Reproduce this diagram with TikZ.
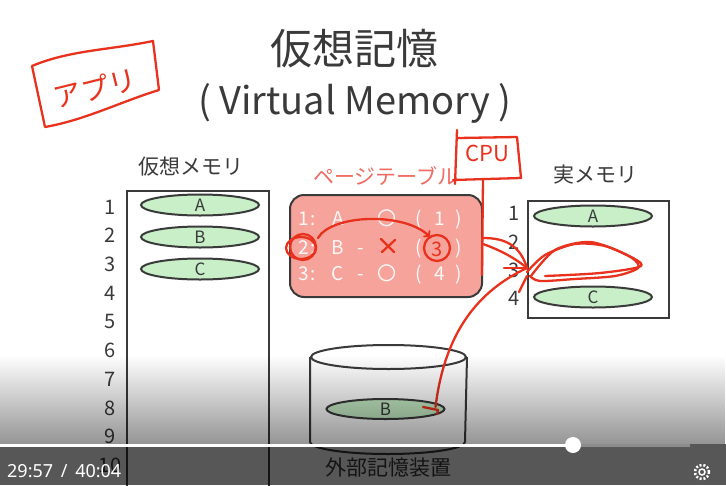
\documentclass[tikz,border=0pt]{standalone}
\usepackage{fontspec}
\setmainfont{Noto Sans CJK JP}
\newfontfamily\uifont{Noto Sans}
\usetikzlibrary{shapes.geometric,fadings}
\definecolor{ink}{HTML}{3A3A3A}
\definecolor{marker}{HTML}{E8321E}
\definecolor{tablefill}{HTML}{F6A39B}
\definecolor{tabletitle}{HTML}{EF6B61}
\definecolor{pagefill}{HTML}{C8EFC8}
\begin{document}
\begin{tikzpicture}[x=1pt,y=-1pt]
    \tikzset{
        heading/.style={text=ink, inner sep=0, font=\fontsize{21}{21}\selectfont},
        num/.style={text=ink, inner sep=0, font=\fontsize{20}{20}\selectfont},
        page/.style={draw=ink, line width=2pt, fill=pagefill, ellipse, minimum width=118pt, minimum height=21pt, inner sep=0, text=ink, font=\fontsize{17}{17}\selectfont},
        frame/.style={draw=ink, line width=2pt},
        cell/.style={text=white!92!tablefill, inner sep=0, anchor=base, font=\fontsize{19}{19}\selectfont},
        scrawl/.style={draw=marker, line width=2.3pt, line cap=round, line join=round},
        hand/.style={text=marker, inner sep=0}
    }
    \useasboundingbox (0,0) rectangle (726,485);
    \fill[white] (0,0) rectangle (726,485);

    \draw node[text=ink, inner sep=0, font=\fontsize{42}{42}\selectfont] (title) at (354,49) {仮想記憶};
    \draw node[text=ink, inner sep=0, font=\fontsize{38}{38}\selectfont] (subtitle) at (355,103) {( Virtual Memory )};

    \draw node[heading] (vlabel) at (191,167) {仮想メモリ};
    \draw node[heading, text=tabletitle] (tlabel) at (386,176) {ページテーブル};
    \draw node[heading] (rlabel) at (595,175) {実メモリ};
    \draw node[heading] (dlabel) at (388,468) {外部記憶装置};

    \draw node[frame, anchor=north west, minimum width=142pt, minimum height=310pt] (vmem) at (126,190) {};
    \foreach \i in {1,...,10}{
        \draw node[num] (v\i) at (110,{207+28.7*(\i-1)}) {\i};
    }
    \draw node[page] (va) at (200,205) {A};
    \draw node[page] (vb) at (200,237) {B};
    \draw node[page] (vc) at (200,269) {C};

    \draw node[frame, fill=tablefill, rounded corners=14pt, minimum width=192pt, minimum height=102pt] (ptable) at (386,246) {};
    \foreach \x/\a/\b/\c in {%
        304/1/2/3, 313/:/:/:, 338/A/B/C, 361/-/-/-, 387/〇//〇, 419/(/(/(, 440/1//4, 459/)/)/)%
    }{
        \draw node[cell] at (\x,225) {\a};
        \draw node[cell] at (\x,254) {\b};
        \draw node[cell] at (\x,280) {\c};
    }

    \draw node[frame, anchor=north west, minimum width=141pt, minimum height=117pt] (rmem) at (527,200) {};
    \foreach \i/\y in {1/213,2/242,3/270,4/298}{
        \draw node[num] (r\i) at (514,\y) {\i};
    }
    \draw node[page] (ra) at (593,216) {A};
    \draw node[page] (rc) at (593,297) {C};

    \draw node[frame, ellipse, minimum width=155pt, minimum height=24pt, inner sep=0] (disk) at (388.5,357) {};
    \draw[frame] (disk.west) -- ++(0,85) arc[start angle=180, end angle=360, x radius=77.5pt, y radius=12pt] -- (disk.east);
    \draw node[page, minimum height=20pt] (db) at (385.5,409) {B};

    \draw[scrawl] (32,66) .. controls (70,50) and (110,50) .. (153,41) -- (159,90) .. controls (120,102) and (85,120) .. (45,127) -- cycle;
    \draw node[hand, rotate=14, font=\fontsize{28}{28}\selectfont] (app) at (95,88) {アプリ};

    \draw[scrawl] (457,130) -- (455,184);
    \draw[scrawl] (458,138) -- (517,137) -- (521,178) -- (453,180);
    \draw node[hand, font=\fontsize{22}{22}\selectfont] (cpu) at (487,153) {CPU};
    \coordinate (cpufoot) at (483,179);
    \coordinate (r3in) at (527,268);
    \draw[scrawl] (cpufoot) -- (482,275);
    \draw[scrawl] (483,238) .. controls (505,238) and (520,245) .. (r3in);
    \draw[scrawl] (483,244) .. controls (500,250) and (515,258) .. (r3in);
    \draw[scrawl] (504,268) -- (r3in);
    \draw[scrawl] (db.east) ++(-10,-2) .. controls (445,330) and (480,290) .. (r3in);
    \draw[scrawl] (423,407) -- (438,410) -- (437,414);
    \draw[scrawl] (527,276) -- (519,292);
    \draw[scrawl] plot[smooth] coordinates {(527,272) (545,255) (575,244) (605,246) (632,258) (638,268) (615,276) (575,279) (540,281) (530,276)};
    \draw[scrawl] plot[smooth] coordinates {(531,276) (555,250) (590,242) (625,254) (641,266) (600,273) (545,276)};

    \draw[scrawl] (303,247) circle[radius=13pt];
    \draw[scrawl] (301,248) ellipse[x radius=15pt, y radius=11pt];
    \draw[scrawl] (381,239) -- (394,252);
    \draw[scrawl] (395,240) -- (382,252);
    \draw node[hand, font=\fontsize{20}{20}\selectfont] (three) at (437,249) {3};
    \draw[scrawl] (437,248) circle[radius=13pt];
    \draw[scrawl, ->] (318,238) .. controls (332,214) and (405,212) .. (430,237);

    \fill[black, opacity=0.42, path fading=north] (0,355) rectangle (726,444);
    \fill[black, opacity=0.66] (0,444) rectangle (726,485);
    \draw[white, line width=3pt] (0,445) -- (573,445);
    \draw[white!55!black, line width=3pt] (573,445) -- (690,445);
    \fill[white] (573,445) circle (8pt);
    \draw node[text=white, anchor=west, inner sep=0, font=\uifont\fontsize{18}{18}\selectfont] (clock) at (7,471) {29:57 \,/\, 40:04};
    \draw[white, line width=2.5pt, dash pattern=on 2pt off 1.8pt] (702,472) circle (7pt);
    \draw[white, line width=1.5pt] (702,472) circle (3pt);
\end{tikzpicture}
\end{document}
